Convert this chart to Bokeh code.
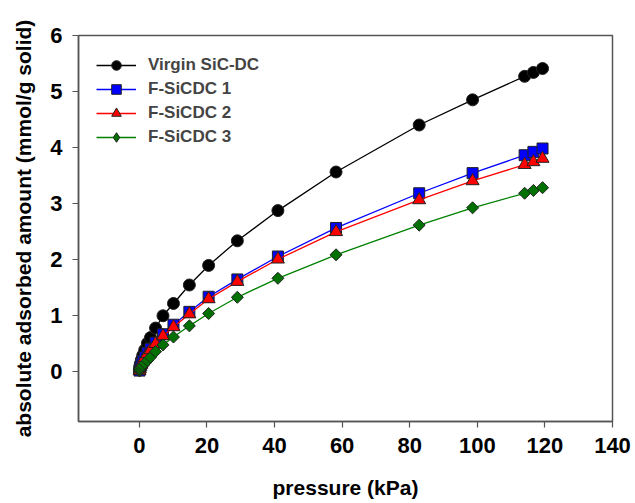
import numpy as np
from bokeh.plotting import figure
from bokeh.models import Range1d, FixedTicker, Legend, LegendItem
from bokeh.embed import file_html
from bokeh.resources import INLINE

pressure = [0.05, 0.15, 0.3, 0.6, 1.0, 1.6, 2.4, 3.3, 4.8, 7.0, 10.1, 14.8,
            20.5, 29.0, 41.0, 58.2, 82.8, 98.6, 114.0, 116.6, 119.3]
virgin = [0.02, 0.06, 0.12, 0.20, 0.28, 0.38, 0.50, 0.60, 0.77, 0.99, 1.21, 1.54,
          1.89, 2.33, 2.87, 3.56, 4.40, 4.85, 5.27, 5.34, 5.41]
f1 = [0.01, 0.04, 0.08, 0.13, 0.18, 0.25, 0.33, 0.40, 0.51, 0.66, 0.83, 1.06,
      1.33, 1.64, 2.05, 2.56, 3.18, 3.54, 3.86, 3.92, 3.98]
f2 = [0.01, 0.04, 0.08, 0.12, 0.17, 0.24, 0.31, 0.38, 0.49, 0.63, 0.79, 1.02,
      1.29, 1.60, 2.00, 2.49, 3.06, 3.40, 3.69, 3.74, 3.80]
f3 = [0.005, 0.02, 0.04, 0.07, 0.10, 0.14, 0.19, 0.25, 0.35, 0.47, 0.61, 0.81,
      1.03, 1.32, 1.66, 2.08, 2.61, 2.92, 3.18, 3.23, 3.28]

series_names = ["Virgin SiC-DC", "F-SiCDC 1", "F-SiCDC 2", "F-SiCDC 3"]
x_ticks = [0, 20, 40, 60, 80, 100, 120, 140]
y_ticks = [0, 1, 2, 3, 4, 5, 6]

FONT = "Liberation Sans"
AX = "#555555"

p = figure(width=635, height=503, output_backend="svg", toolbar_location=None,
           x_range=Range1d(-18, 140), y_range=Range1d(-0.9, 6.0),
           min_border_left=78, min_border_right=23, min_border_top=35,
           min_border_bottom=82)
p.grid.visible = False
p.outline_line_color = AX
p.outline_line_width = 1.5
p.background_fill_color = "white"
p.border_fill_color = "white"

for ax in (p.xaxis[0], p.yaxis[0]):
    ax.axis_line_color = AX
    ax.axis_line_width = 1.5
    ax.major_tick_line_color = AX
    ax.major_tick_line_width = 1.2
    ax.major_tick_out = 6
    ax.major_tick_in = 0
    ax.minor_tick_line_color = None
    ax.major_label_text_font = FONT
    ax.major_label_text_font_style = "bold"
    ax.major_label_text_font_size = "22px"
    ax.major_label_text_color = "black"
    ax.axis_label_text_font = FONT
    ax.axis_label_text_font_style = "bold"
    ax.axis_label_text_font_size = "21px"
    ax.axis_label_text_color = "black"

p.xaxis.ticker = FixedTicker(ticks=x_ticks)
p.yaxis.ticker = FixedTicker(ticks=y_ticks)
p.xaxis.axis_label = "pressure (kPa)"
p.yaxis.axis_label = "absolute adsorbed amount (mmol/g solid)"
p.xaxis.major_label_standoff = 10
p.yaxis.major_label_standoff = 10
p.xaxis.axis_label_standoff = 20
p.yaxis.axis_label_standoff = 12

specs = [
    (virgin, "black", "black", "circle", 12, 0, "circle"),
    (f1, "#0000ff", "#0000ff", "square", 11, 0, "square"),
    (f2, "#ff0000", "#ff0000", "triangle", 13, 0, "triangle"),
    (f3, "#008000", "#007000", "square", 8.5, np.pi / 4, "diamond"),
]
items = []
for name, (ys, lc, fc, mk, sz, ang, lmk) in zip(series_names, specs):
    ln = p.line(pressure, ys, line_color=lc, line_width=1.3)
    sc = p.scatter(pressure, ys, marker=mk, size=sz, angle=ang,
                   fill_color=fc, line_color="#222222", line_width=1)
    if lmk != mk:
        # legend key only (the data markers are rotated squares)
        key = p.scatter(pressure, ys, marker=lmk, size=sz,
                        fill_color=fc, line_color="#222222", line_width=1,
                        visible=False)
        items.append(LegendItem(label=name, renderers=[ln, key]))
    else:
        items.append(LegendItem(label=name, renderers=[ln, sc]))

legend = Legend(items=items, location="top_left")
legend.margin = 18
legend.padding = 9
legend.border_line_color = None
legend.background_fill_alpha = 0
legend.glyph_width = 40
legend.glyph_height = 24
legend.label_height = 24
legend.spacing = 0
legend.label_standoff = 12
legend.label_text_font = FONT
legend.label_text_font_style = "bold"
legend.label_text_font_size = "17px"
p.add_layout(legend)

open("out.html", "w").write(file_html(p, INLINE))
